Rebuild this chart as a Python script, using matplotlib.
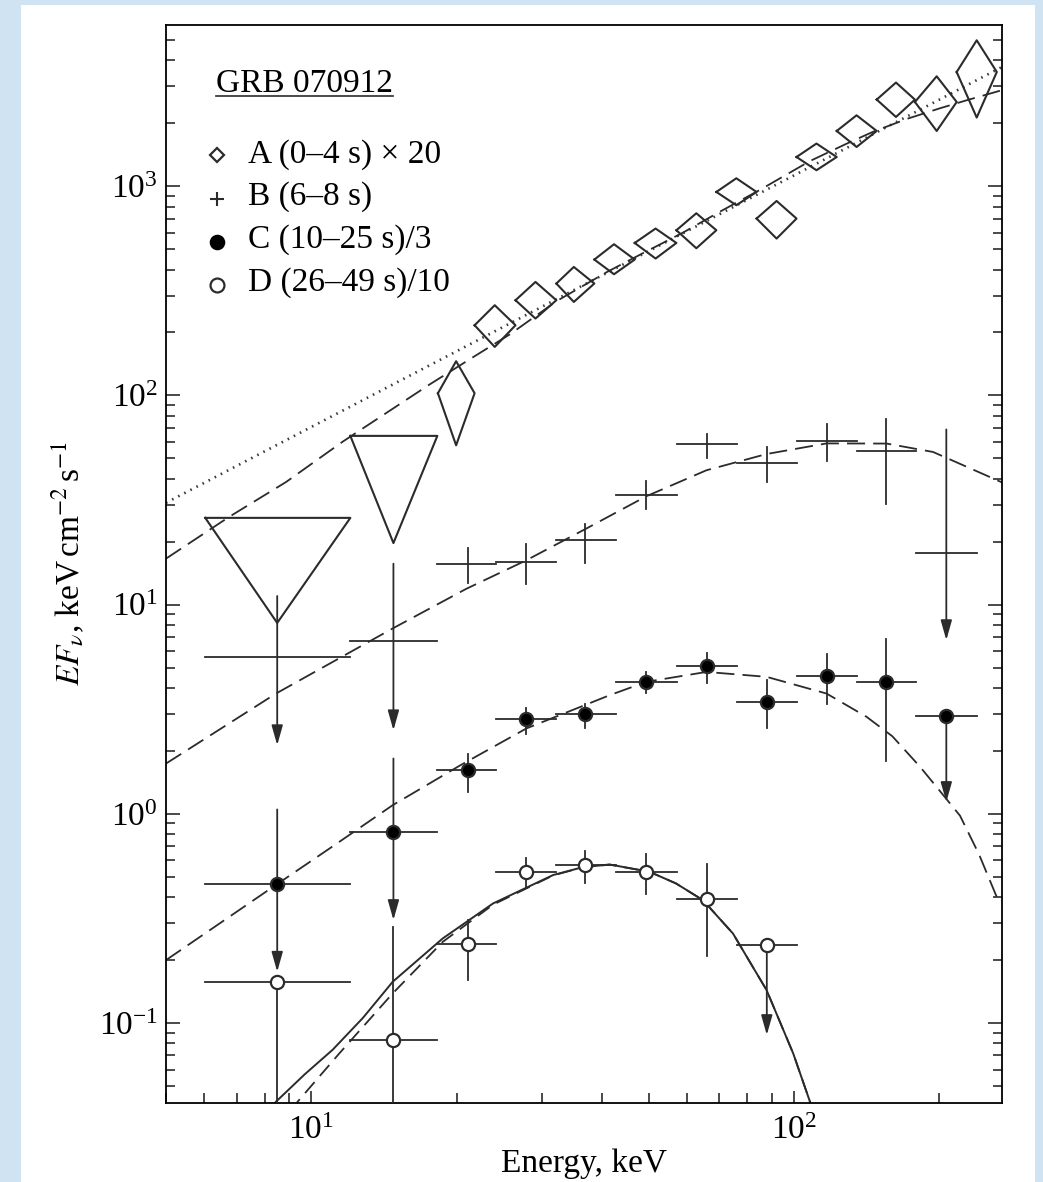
import numpy as np
import matplotlib
matplotlib.use('Agg')
import matplotlib.pyplot as plt
from matplotlib.patches import Rectangle
from matplotlib.lines import Line2D

plt.rcParams['font.family'] = ['Liberation Serif', 'DejaVu Serif']
plt.rcParams['mathtext.fontset'] = 'stix'
plt.rcParams['font.size'] = 24

# ---- energy bins (keV) shared by B, C, D
energy = [8.50, 14.8, 21.1, 27.8, 37.0, 49.5, 66.0, 87.9, 117, 155, 207]
e_lo = [6.03, 12.05, 18.25, 24.2, 32.1, 42.9, 57.2, 76.1, 101.4, 135, 179]
e_hi = [12.05, 18.25, 24.2, 32.1, 42.9, 57.2, 76.1, 101.4, 135, 179, 240]

# ---- A (0-4 s) x 20 : diamonds
a_e = [19.96, 24.0, 29.15, 35.0, 42.4, 51.7, 62.8, 76.0, 92.1, 111.4, 134.9, 162.8, 197.7, 239.3]
a_lo = [18.3, 21.8, 26.5, 32.2, 38.6, 46.8, 57.1, 69.1, 83.7, 101.3, 122.7, 148.5, 178.2, 217.5]
a_hi = [21.8, 26.5, 32.2, 38.6, 46.8, 57.1, 69.1, 83.7, 101.3, 122.7, 148.5, 178.2, 217.5, 263.4]
a_f = [102.5, 216.6, 285.3, 342.8, 446.4, 535.8, 616.3, 939.3, 701, 1380, 1838, 2596, 2529, 3517]
a_top = [145.8, 270, 348.9, 411.5, 528.4, 628, 743, 1092, 850.6, 1600, 2184, 3131, 3355, 4986]
a_bot = [57.8, 170.6, 233.2, 280, 379.7, 451.3, 505.5, 811.6, 562.3, 1193, 1541, 2144, 1838, 2130]
# A upper limits (triangles)
aul_e = [8.50, 14.8]
aul_lo = [6.03, 12.05]
aul_hi = [12.05, 18.25]
aul_top = [26.0, 64.1]
aul_tip = [8.18, 19.7]

# ---- B (6-8 s)
b_f = [5.63, 6.69, 15.7, 16.0, 20.3, 33.6, 58.3, 47.8, 60.6, 54.2, 17.6]
b_hi = [11.0, 15.7, 18.6, 19.5, 24.3, 38.9, 65.8, 56.8, 72.9, 77.6, 68.8]
b_lo = [2.13, 2.51, 12.7, 12.5, 15.9, 28.6, 50.0, 38.6, 48.5, 30.2, 6.77]
b_ul = [1, 1, 0, 0, 0, 0, 0, 0, 0, 0, 1]

# ---- C (10-25 s)/3
c_f = [0.462, 0.821, 1.62, 2.83, 3.00, 4.28, 5.08, 3.43, 4.55, 4.28, 2.94]
c_hi = [1.05, 1.84, 1.93, 3.19, 3.37, 4.78, 5.85, 4.36, 5.80, 6.82, 2.94]
c_lo = [0.176, 0.311, 1.275, 2.42, 2.56, 3.79, 4.23, 2.56, 3.35, 1.79, 1.14]
c_ul = [1, 1, 0, 0, 0, 0, 0, 0, 0, 0, 1]

# ---- D (26-49 s)/10
d_f = [0.157, 0.083, 0.238, 0.525, 0.567, 0.525, 0.394, 0.236]
d_hi = [0.157, 0.289, 0.311, 0.612, 0.666, 0.640, 0.575, 0.236]
d_lo = [0.01, 0.01, 0.161, 0.440, 0.468, 0.413, 0.209, 0.0877]
d_ul = [0, 0, 0, 0, 0, 0, 0, 1]

# ---- model curves
pl_a_e = [5.0, 17.6, 270]
pl_a_f = [30.7, 139.5, 3717]
mod_a_e = [5.0, 6.76, 8.87, 11.6, 17.6, 21.6, 25.8, 32.2, 40.9, 48.6, 58.9, 70.2, 85, 108, 128.8, 145.8, 171.6, 200.9, 228.5, 270]
mod_a_f = [16.6, 26.3, 38.6, 60.0, 113, 152, 196, 282, 388, 478, 600, 755, 960, 1320, 1600, 1820, 2100, 2360, 2580, 2880]
mod_b_e = [5.0, 8.45, 14.75, 20.94, 27.9, 37.0, 49.5, 65.9, 87.8, 116.9, 155.7, 194.3, 228.2, 271.5]
mod_b_f = [1.74, 3.76, 7.7, 11.9, 16.3, 23.0, 33.0, 43.9, 52.5, 59.0, 58.9, 53.7, 45.6, 38.2]
mod_c_e = [5.0, 8.05, 11.43, 14.75, 20.3, 27.9, 41.5, 49.5, 65.9, 87.8, 116.9, 141.5, 160, 182.6, 200, 221, 242, 263.4]
mod_c_f = [0.2, 0.424, 0.735, 1.101, 1.70, 2.56, 3.69, 4.28, 4.77, 4.52, 3.76, 2.91, 2.35, 1.68, 1.30, 0.98, 0.64, 0.40]
mod_d1_e = [8.2, 8.45, 9.7, 11.07, 12.8, 14.75, 18.73, 23.8, 31.7, 36.5, 41.5, 50.2, 57.0, 64.8, 74.8, 87.8, 99.7, 108, 110]
mod_d1_f = [0.038, 0.0421, 0.057, 0.0745, 0.106, 0.1576, 0.254, 0.373, 0.51, 0.556, 0.573, 0.529, 0.465, 0.387, 0.268, 0.1438, 0.0716, 0.0421, 0.036]
mod_d2_e = [9.1, 9.37, 11.43, 14.75, 18.73, 23.8, 31.7, 36.5, 41.5, 50.2, 57.0, 64.8, 74.8, 87.8, 99.7, 108, 110]
mod_d2_f = [0.038, 0.0421, 0.0716, 0.1387, 0.2446, 0.368, 0.508, 0.555, 0.572, 0.529, 0.465, 0.387, 0.268, 0.1438, 0.0716, 0.0421, 0.036]

ink = '#2b2b2b'
lw = 1.3

fig = plt.figure(figsize=(10.43, 11.82), dpi=100)
fig.patch.set_facecolor('#cfe3f2')
fig.add_artist(Rectangle((21 / 1043, 0), (1035 - 21) / 1043, 1 - 5 / 1182,
                         transform=fig.transFigure, facecolor='white', edgecolor='none', zorder=0))

ax = fig.add_axes([166 / 1043, 1 - 1103 / 1182, 836 / 1043, 1078 / 1182])
ax.set_xscale('log')
ax.set_yscale('log')
ax.set_xlim(5, 270)
ax.set_ylim(0.0415, 5900)

# model curves
ax.plot(pl_a_e, pl_a_f, color='#3a3a3a', lw=1.9, ls=(0, (0.6, 2.0)))
dash = (0, (10, 4.5))
ax.plot(mod_a_e, mod_a_f, color=ink, lw=lw, ls=dash)
ax.plot(mod_b_e, mod_b_f, color=ink, lw=lw, ls=dash)
ax.plot(mod_c_e, mod_c_f, color=ink, lw=lw, ls=dash)
ax.plot(mod_d1_e, mod_d1_f, color=ink, lw=1.4, ls='-')
ax.plot(mod_d2_e, mod_d2_f, color=ink, lw=lw, ls=(0, (8, 4.5)))


def ul_arrow(x, top, tip):
    ax.annotate('', xy=(x, tip), xytext=(x, top),
                arrowprops=dict(arrowstyle='-|>,head_length=0.6,head_width=0.17',
                                mutation_scale=20, lw=lw, color=ink,
                                shrinkA=0, shrinkB=0), zorder=3)


# A diamonds
for i in range(len(a_e)):
    ax.plot([a_lo[i], a_e[i], a_hi[i], a_e[i], a_lo[i]],
            [a_f[i], a_top[i], a_f[i], a_bot[i], a_f[i]], color=ink, lw=1.5)
# A upper-limit triangles
for i in range(len(aul_e)):
    ax.plot([aul_lo[i], aul_hi[i], aul_e[i], aul_lo[i]],
            [aul_top[i], aul_top[i], aul_tip[i], aul_top[i]], color=ink, lw=1.5)


def series(flux, hi, lo, ul, n, marker, face):
    for i in range(n):
        x = energy[i]
        ax.plot([e_lo[i], e_hi[i]], [flux[i], flux[i]], color=ink, lw=lw, zorder=3)
        if ul[i]:
            ul_arrow(x, hi[i], lo[i])
        else:
            ax.plot([x, x], [lo[i], hi[i]], color=ink, lw=lw, zorder=3)
        if marker:
            ax.plot(x, flux[i], marker=marker, ms=9.5, mfc=face, mec=ink, mew=1.6,
                    zorder=4, ls='none')


series(b_f, b_hi, b_lo, b_ul, len(b_f), None, None)
series(c_f, c_hi, c_lo, c_ul, len(c_f), 'o', 'black')
series(d_f, d_hi, d_lo, d_ul, len(d_f), 'o', 'white')

# axes styling
for s in ax.spines.values():
    s.set_linewidth(1.3)
ax.tick_params(which='both', direction='in', top=False, right=True, width=1.2, color=ink)
ax.tick_params(axis='x', which='major', length=8.5, pad=9)
ax.tick_params(axis='x', which='minor', length=7)
ax.tick_params(axis='y', which='major', length=10, pad=6)
ax.tick_params(axis='y', which='minor', length=6.5)
ax.tick_params(axis='x', which='minor', labelbottom=False)

ax.set_xlabel('Energy, keV')
ax.xaxis.set_label_coords(0.5, -0.042)
ax.set_ylabel(r'$EF_{\nu}$, keV$\,$cm$^{-2}\,$s$^{-1}$')
ax.yaxis.set_label_coords(-0.095, 0.5)

# legend block
ax.text(0.0598, 0.9378, 'GRB 070912', transform=ax.transAxes, va='baseline', ha='left')
ax.add_line(Line2D([0.0598, 0.2715], [0.9344, 0.9344], transform=ax.transAxes, color=ink, lw=1.2))
labels = ['A (0–4 s) × 20', 'B (6–8 s)', 'C (10–25 s)/3', 'D (26–49 s)/10']
text_y = [0.8726, 0.8330, 0.7929, 0.7532]
mark_y = [0.8791, 0.8386, 0.7987, 0.7584]
mk = [dict(marker='D', ms=7, mfc='none', mec=ink, mew=1.6),
      dict(marker='+', ms=10, mec=ink, mew=1.5),
      dict(marker='o', ms=10, mfc='black', mec='black', mew=1.2),
      dict(marker='o', ms=10, mfc='white', mec=ink, mew=1.6)]
for lab, ty, my, m in zip(labels, text_y, mark_y, mk):
    ax.plot([0.061], [my], transform=ax.transAxes, ls='none', **m)
    ax.text(0.098, ty, lab, transform=ax.transAxes, va='baseline', ha='left')

fig.savefig('out.png', dpi=100, facecolor=fig.get_facecolor())
